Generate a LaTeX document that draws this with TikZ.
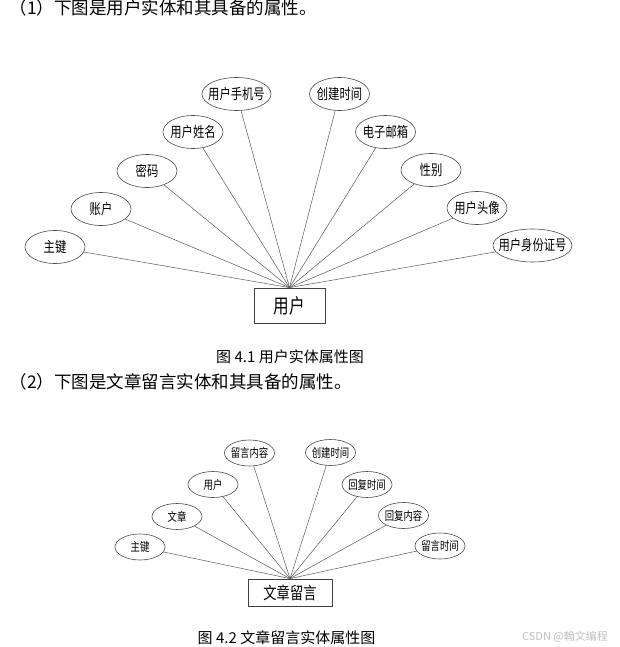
\documentclass[tikz,border=0pt]{standalone}
\usepackage{fontspec}
\setmainfont{Noto Sans CJK SC}
\newfontfamily\narrowcjk[FakeStretch=0.78]{Noto Sans CJK SC}
\newcommand{\attrtext}[1]{\makebox[0pt]{#1}}
\usepackage{tikz}
\usetikzlibrary{shapes.geometric}

\begin{document}
\begin{tikzpicture}[x=1pt,y=-1pt,line cap=round,
  attr/.style={draw=black!70,line width=0.6pt,ellipse,inner sep=0pt,minimum width=60,minimum height=33,font=\narrowcjk\fontsize{14.5}{14.5}\selectfont},
  attrs/.style={attr,minimum width=50,minimum height=26,font=\narrowcjk\fontsize{12}{12}\selectfont},
  ent/.style={draw=black!75,line width=0.8pt,rectangle,inner sep=0pt},
  attrline/.style={black!65,line width=0.5pt},
  figcap/.style={font=\fontsize{15}{15}\selectfont}]
\useasboundingbox (0,0) rectangle (620,647);
% figure 4.1
\node[anchor=west,font=\fontsize{17.5}{17.5}\selectfont] (title1) at (6,8) {（1）下图是用户实体和其具备的属性。};
\node[ent,minimum width=71,minimum height=35,font=\narrowcjk\fontsize{20}{20}\selectfont] (user) at (289.5,305.5) {用户};
\node[attr] (pk1) at (55,247) {\attrtext{主键}};
\node[attr] (acct) at (101,209) {\attrtext{账户}};
\node[attr] (pwd) at (147,171) {\attrtext{密码}};
\node[attr] (uname) at (193,132) {\attrtext{用户姓名}};
\node[attr,minimum width=69] (phone) at (236.5,94) {\attrtext{用户手机号}};
\node[attr] (ctime1) at (339.5,94) {\attrtext{创建时间}};
\node[attr] (email) at (385.5,132) {\attrtext{电子邮箱}};
\node[attr] (sex) at (431,170) {\attrtext{性别}};
\node[attr] (avatar) at (477,208) {\attrtext{用户头像}};
\node[attr,minimum width=79] (idno) at (532.5,245.5) {\attrtext{用户身份证号}};
\draw[attrline] (pk1) -- (user.north);
\draw[attrline] (acct) -- (user.north);
\draw[attrline] (pwd) -- (user.north);
\draw[attrline] (uname) -- (user.north);
\draw[attrline] (phone) -- (user.north);
\draw[attrline] (ctime1) -- (user.north);
\draw[attrline] (email) -- (user.north);
\draw[attrline] (sex) -- (user.north);
\draw[attrline] (avatar) -- (user.north);
\draw[attrline] (idno) -- (user.north);
\node[figcap] (cap1) at (290,357) {图 4.1 用户实体属性图};
% figure 4.2
\node[anchor=west,font=\fontsize{17.5}{17.5}\selectfont] (title2) at (6,382) {（2）下图是文章留言实体和其具备的属性。};
\node[ent,minimum width=84,minimum height=27,font=\narrowcjk\fontsize{17}{17}\selectfont] (msgent) at (290,592.5) {文章留言};
\node[attrs] (pk2) at (140,547) {\attrtext{主键}};
\node[attrs] (art) at (177,516.5) {\attrtext{文章}};
\node[attrs] (usr) at (213,484.5) {\attrtext{用户}};
\node[attrs] (msg) at (249.5,453) {\attrtext{留言内容}};
\node[attrs] (ctime2) at (330.5,452.5) {\attrtext{创建时间}};
\node[attrs] (rtime) at (367,484.5) {\attrtext{回复时间}};
\node[attrs] (rcont) at (403.5,515.5) {\attrtext{回复内容}};
\node[attrs] (mtime) at (440,546) {\attrtext{留言时间}};
\draw[attrline] (pk2) -- (msgent.north);
\draw[attrline] (art) -- (msgent.north);
\draw[attrline] (usr) -- (msgent.north);
\draw[attrline] (msg) -- (msgent.north);
\draw[attrline] (ctime2) -- (msgent.north);
\draw[attrline] (rtime) -- (msgent.north);
\draw[attrline] (rcont) -- (msgent.north);
\draw[attrline] (mtime) -- (msgent.north);
\node[figcap] (cap2) at (286.5,637.5) {图 4.2 文章留言实体属性图};
\node[gray!50,font=\fontsize{11}{11}\selectfont] (mark) at (565,637) {CSDN @翰文编程};
\end{tikzpicture}
\end{document}
